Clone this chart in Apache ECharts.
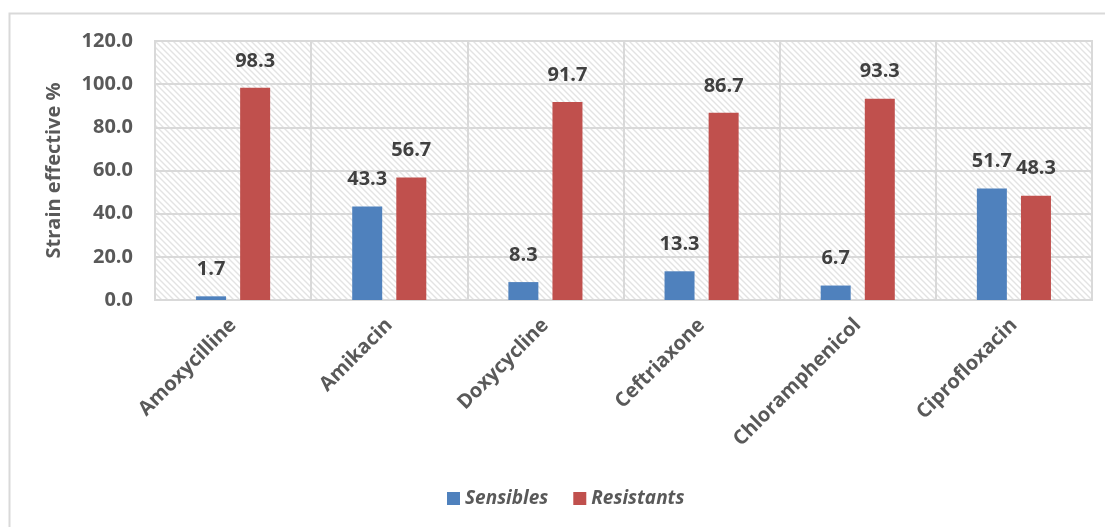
<!DOCTYPE html>
<html>
<head>
<meta charset="utf-8">
<script src="https://cdn.jsdelivr.net/npm/echarts@6/dist/echarts.min.js"></script>
<style>
  html, body { margin: 0; padding: 0; background: #ffffff; }
  #chart { width: 1105px; height: 527px; }
</style>
</head>
<body>
<div id="chart"></div>
<script>
// Antibiotic susceptibility of the isolated strains (%)
const categories = ['Amoxycilline', 'Amikacin', 'Doxycycline', 'Ceftriaxone', 'Chloramphenicol', 'Ciprofloxacin'];
const sensibles = [1.7, 43.3, 8.3, 13.3, 6.7, 51.7];
const resistants = [98.3, 56.7, 91.7, 86.7, 93.3, 48.3];
const seriesNames = ['Sensibles', 'Resistants'];
const yTicks = { min: 0, max: 120, interval: 20 };

const FONT = '"Open Sans", "Noto Sans", sans-serif';

// Light diagonal hatch used as the plot-area fill
function makeHatch() {
  const c = document.createElement('canvas');
  const s = 6;
  c.width = s; c.height = s;
  const g = c.getContext('2d');
  g.fillStyle = '#ffffff';
  g.fillRect(0, 0, s, s);
  g.strokeStyle = '#e3e3e3';
  g.lineWidth = 1.4;
  g.beginPath();
  g.moveTo(-1, -1); g.lineTo(s + 1, s + 1);
  g.moveTo(-1, s - 1); g.lineTo(1, s + 1);
  g.moveTo(s - 1, -1); g.lineTo(s + 1, 1);
  g.stroke();
  return c;
}

const chart = echarts.init(document.getElementById('chart'), null, { renderer: 'canvas' });

const labelStyle = {
  show: true,
  position: 'top',
  distance: 17,
  fontFamily: FONT,
  fontWeight: 'bold',
  fontSize: 20,
  color: '#404040',
  formatter: p => p.value.toFixed(1)
};

chart.setOption({
  animation: false,
  backgroundColor: '#ffffff',
  graphic: [{
    type: 'rect',
    left: 7, top: 11,
    shape: { width: 1200, height: 600 },
    style: { fill: 'none', stroke: '#d9d9d9', lineWidth: 2 },
    silent: true,
    z: -10
  }],
  grid: {
    left: 155, top: 41, right: 13, bottom: 227,
    show: true,
    backgroundColor: { image: makeHatch(), repeat: 'repeat' },
    borderColor: '#d9d9d9',
    borderWidth: 2
  },
  legend: {
    data: seriesNames,
    left: 442,
    top: 484,
    icon: 'rect',
    itemWidth: 13,
    itemHeight: 13,
    itemGap: 25,
    textStyle: {
      fontFamily: FONT,
      fontStyle: 'italic',
      fontWeight: 'bold',
      fontSize: 19,
      color: '#595959'
    }
  },
  xAxis: {
    type: 'category',
    data: categories,
    axisTick: { show: false },
    axisLine: { lineStyle: { color: '#d9d9d9', width: 2 } },
    splitLine: { show: true, lineStyle: { color: '#d9d9d9', width: 2 } },
    axisLabel: {
      rotate: 45,
      margin: 22,
      fontFamily: FONT,
      fontWeight: 'bold',
      fontSize: 20,
      color: '#595959'
    }
  },
  yAxis: {
    type: 'value',
    min: yTicks.min,
    max: yTicks.max,
    interval: yTicks.interval,
    name: 'Strain effective %',
    nameLocation: 'middle',
    nameGap: 91,
    nameTextStyle: {
      fontFamily: FONT,
      fontWeight: 'bold',
      fontSize: 20,
      color: '#595959'
    },
    axisLine: { show: false },
    axisTick: { show: false },
    splitLine: { lineStyle: { color: '#d9d9d9', width: 2 } },
    axisLabel: {
      margin: 22,
      fontFamily: FONT,
      fontWeight: 'bold',
      fontSize: 20,
      color: '#595959',
      formatter: v => v.toFixed(1)
    }
  },
  series: [
    {
      name: seriesNames[0],
      type: 'bar',
      data: sensibles,
      barWidth: 30,
      barGap: '47%',
      itemStyle: { color: '#4f81bd' },
      label: labelStyle
    },
    {
      name: seriesNames[1],
      type: 'bar',
      data: resistants,
      barWidth: 30,
      barGap: '47%',
      itemStyle: { color: '#c0504d' },
      label: labelStyle
    }
  ]
});
</script>
</body>
</html>
